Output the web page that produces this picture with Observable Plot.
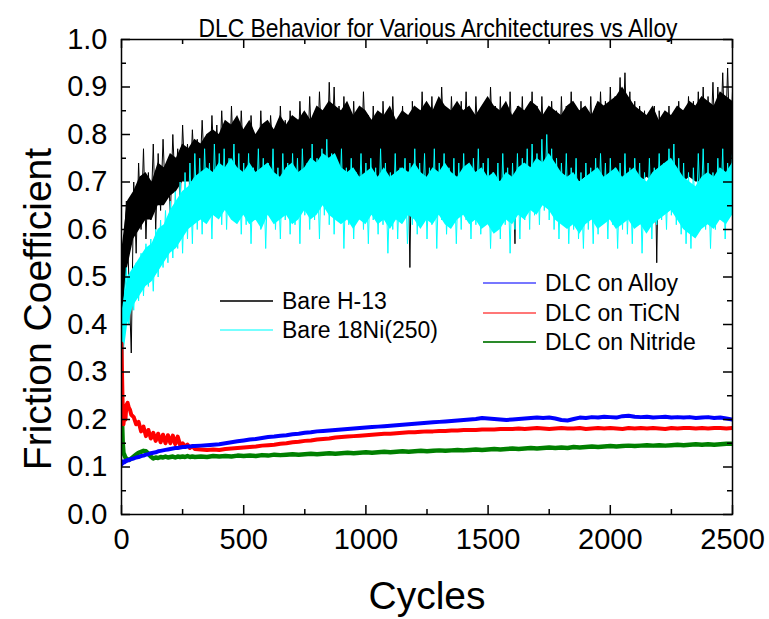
<!DOCTYPE html>
<html><head><meta charset="utf-8">
<script src="https://cdn.jsdelivr.net/npm/d3@7"></script>
<script src="https://cdn.jsdelivr.net/npm/@observablehq/plot@0.6"></script>
<style>
body{margin:0;background:#fff;}
#wrap{position:relative;width:769px;height:619px;font-family:"Liberation Sans",Arial,sans-serif;}
.leg{position:absolute;height:30px;display:flex;align-items:center;font-size:23px;color:#000;white-space:nowrap;}
.leg .sw{display:inline-block;width:53px;height:2px;margin-right:9px;}
</style></head><body><div id="wrap"></div><script>
const titleText = "DLC Behavior for Various Architectures vs Alloy";
const xLabel = "Cycles";
const yLabel = "Friction Coefficient";
const seriesNames = ["Bare H-13", "Bare 18Ni(250)", "DLC on Alloy", "DLC on TiCN", "DLC on Nitride"];
const seriesColors = ["#000000", "#00ffff", "#0000ff", "#ff0000", "#008000"];
const legendColors = ["#3a3a3a", "#77ffff", "#7777ff", "#ff7777", "#2a8a2a"];
const xMajor = [0, 500, 1000, 1500, 2000, 2500];
const xMinor = [250, 750, 1250, 1750, 2250];
const yMajor = [0, 0.1, 0.2, 0.3, 0.4, 0.5, 0.6, 0.7, 0.8, 0.9, 1.0];
const yMinor = [0.05, 0.15, 0.25, 0.35, 0.45, 0.55, 0.65, 0.75, 0.85, 0.95];

// Bare series sampled every 10 cycles (0..2500): spikes of the noisy traces
const bareStep = 10;
const bareH13 = [
0.11,0.56,0.66,0.50,0.34,0.70,0.55,0.74,0.60,0.77,
0.58,0.72,0.62,0.78,0.60,0.76,0.64,0.79,0.66,0.74,
0.63,0.80,0.68,0.77,0.65,0.82,0.70,0.78,0.68,0.81,
0.71,0.79,0.70,0.83,0.72,0.80,0.69,0.84,0.73,0.82,
0.71,0.85,0.74,0.80,0.70,0.86,0.73,0.83,0.72,0.85,
0.74,0.81,0.71,0.84,0.75,0.80,0.70,0.85,0.73,0.82,
0.72,0.84,0.76,0.81,0.71,0.86,0.74,0.83,0.73,0.85,
0.75,0.82,0.72,0.87,0.76,0.84,0.73,0.88,0.75,0.83,
0.74,0.89,0.77,0.85,0.73,0.91,0.76,0.90,0.75,0.86,
0.74,0.88,0.77,0.84,0.72,0.87,0.75,0.85,0.73,0.89,
0.76,0.84,0.72,0.86,0.74,0.83,0.71,0.87,0.76,0.85,
0.73,0.88,0.75,0.82,0.72,0.86,0.74,0.84,0.52,0.87,
0.75,0.85,0.73,0.89,0.76,0.84,0.72,0.88,0.75,0.86,
0.74,0.90,0.77,0.85,0.73,0.88,0.76,0.84,0.72,0.87,
0.75,0.89,0.74,0.85,0.73,0.88,0.77,0.83,0.71,0.87,
0.75,0.90,0.76,0.86,0.73,0.88,0.74,0.84,0.72,0.89,
0.75,0.57,0.86,0.74,0.88,0.73,0.85,0.76,0.89,0.74,
0.86,0.72,0.88,0.75,0.84,0.73,0.87,0.76,0.85,0.72,
0.88,0.74,0.86,0.73,0.89,0.75,0.84,0.72,0.87,0.74,
0.85,0.73,0.88,0.76,0.86,0.74,0.89,0.75,0.87,0.73,
0.90,0.76,0.88,0.77,0.92,0.78,0.93,0.76,0.89,0.75,
0.87,0.73,0.86,0.74,0.85,0.72,0.84,0.73,0.86,0.53,
0.85,0.72,0.83,0.74,0.86,0.73,0.84,0.75,0.87,0.74,
0.85,0.76,0.88,0.75,0.87,0.74,0.89,0.76,0.90,0.75,
0.88,0.77,0.91,0.76,0.90,0.78,0.93,0.77,0.94,0.76,
0.89];
const bare18Ni = [
0.20,0.45,0.52,0.40,0.50,0.43,0.53,0.45,0.55,0.46,
0.57,0.48,0.58,0.47,0.60,0.50,0.62,0.52,0.64,0.53,
0.66,0.54,0.68,0.56,0.70,0.55,0.72,0.58,0.74,0.57,
0.76,0.60,0.75,0.59,0.77,0.62,0.74,0.58,0.78,0.63,
0.76,0.61,0.77,0.60,0.75,0.64,0.78,0.62,0.76,0.59,
0.74,0.61,0.76,0.57,0.73,0.62,0.77,0.60,0.75,0.56,
0.74,0.63,0.77,0.60,0.73,0.58,0.76,0.62,0.74,0.59,
0.76,0.61,0.75,0.57,0.77,0.63,0.74,0.60,0.78,0.62,
0.75,0.58,0.77,0.63,0.79,0.61,0.76,0.59,0.74,0.62,
0.77,0.56,0.73,0.61,0.75,0.58,0.72,0.62,0.76,0.60,
0.74,0.57,0.75,0.62,0.73,0.59,0.77,0.61,0.74,0.55,
0.72,0.60,0.76,0.58,0.73,0.63,0.75,0.57,0.74,0.61,
0.77,0.59,0.74,0.62,0.76,0.58,0.73,0.61,0.77,0.56,
0.74,0.62,0.76,0.59,0.73,0.61,0.75,0.57,0.74,0.60,
0.76,0.62,0.73,0.58,0.75,0.61,0.77,0.59,0.74,0.62,
0.75,0.56,0.72,0.60,0.74,0.58,0.76,0.61,0.73,0.55,
0.74,0.60,0.76,0.58,0.75,0.62,0.77,0.60,0.78,0.63,
0.76,0.61,0.79,0.64,0.80,0.62,0.77,0.60,0.75,0.58,
0.74,0.61,0.76,0.57,0.73,0.60,0.75,0.58,0.72,0.56,
0.74,0.60,0.73,0.57,0.75,0.59,0.76,0.62,0.74,0.58,
0.75,0.61,0.73,0.56,0.74,0.60,0.76,0.59,0.73,0.57,
0.75,0.62,0.74,0.55,0.72,0.60,0.75,0.58,0.73,0.61,
0.76,0.62,0.74,0.60,0.77,0.63,0.78,0.61,0.75,0.59,
0.74,0.57,0.72,0.56,0.73,0.59,0.76,0.62,0.77,0.60,
0.74,0.56,0.72,0.60,0.75,0.62,0.77,0.58,0.74,0.63,
0.76];

// Dense core of each noisy trace, every 25 cycles (0..2500)
const coreStep = 25;
const h13CoreLow = [
0.40,0.52,0.58,0.60,0.62,0.62,0.65,0.65,0.67,0.68,
0.70,0.70,0.70,0.70,0.70,0.70,0.71,0.70,0.71,0.70,
0.70,0.71,0.70,0.71,0.70,0.70,0.71,0.70,0.70,0.71,
0.70,0.71,0.70,0.71,0.70,0.70,0.71,0.70,0.70,0.71,
0.70,0.71,0.70,0.71,0.70,0.70,0.71,0.70,0.70,0.71,
0.70,0.71,0.70,0.71,0.70,0.70,0.71,0.70,0.70,0.71,
0.70,0.71,0.70,0.71,0.70,0.70,0.71,0.70,0.70,0.71,
0.70,0.71,0.70,0.71,0.70,0.70,0.71,0.70,0.70,0.71,
0.70,0.71,0.70,0.71,0.70,0.70,0.71,0.70,0.70,0.71,
0.70,0.71,0.70,0.71,0.70,0.70,0.71,0.70,0.70,0.71,
0.71];
const h13CoreHigh = [
0.55,0.66,0.68,0.71,0.72,0.70,0.74,0.73,0.76,0.75,
0.78,0.77,0.79,0.78,0.80,0.81,0.80,0.83,0.82,0.84,
0.81,0.83,0.80,0.82,0.83,0.81,0.84,0.82,0.84,0.83,
0.85,0.83,0.86,0.85,0.87,0.86,0.85,0.87,0.84,0.86,
0.85,0.83,0.85,0.84,0.86,0.83,0.85,0.84,0.86,0.85,
0.87,0.85,0.88,0.86,0.85,0.87,0.85,0.86,0.84,0.86,
0.88,0.86,0.85,0.87,0.84,0.86,0.85,0.87,0.86,0.84,
0.86,0.85,0.84,0.86,0.87,0.85,0.86,0.84,0.87,0.86,
0.87,0.88,0.90,0.88,0.86,0.85,0.84,0.86,0.83,0.85,
0.84,0.86,0.85,0.87,0.86,0.88,0.87,0.86,0.89,0.88,
0.87];
const niCoreLow = [
0.30,0.40,0.44,0.46,0.48,0.49,0.51,0.53,0.55,0.56,
0.58,0.60,0.61,0.62,0.61,0.63,0.62,0.64,0.62,0.61,
0.63,0.61,0.62,0.60,0.63,0.61,0.62,0.63,0.61,0.62,
0.64,0.62,0.63,0.65,0.63,0.62,0.61,0.62,0.60,0.62,
0.61,0.63,0.61,0.62,0.60,0.62,0.61,0.63,0.62,0.60,
0.62,0.61,0.63,0.61,0.60,0.62,0.63,0.61,0.62,0.60,
0.61,0.59,0.60,0.62,0.61,0.63,0.62,0.64,0.63,0.65,
0.64,0.62,0.61,0.60,0.61,0.59,0.61,0.62,0.60,0.61,
0.62,0.60,0.61,0.62,0.60,0.61,0.59,0.61,0.62,0.63,
0.64,0.62,0.60,0.59,0.58,0.60,0.61,0.60,0.62,0.61,
0.63];
const niCoreHigh = [
0.42,0.50,0.52,0.54,0.56,0.57,0.60,0.61,0.64,0.66,
0.68,0.69,0.71,0.72,0.73,0.72,0.74,0.73,0.75,0.73,
0.72,0.74,0.72,0.73,0.74,0.72,0.71,0.73,0.74,0.72,
0.73,0.75,0.74,0.76,0.75,0.76,0.73,0.72,0.73,0.71,
0.72,0.73,0.71,0.73,0.71,0.72,0.73,0.72,0.74,0.72,
0.71,0.73,0.72,0.74,0.72,0.71,0.73,0.74,0.72,0.73,
0.71,0.72,0.70,0.72,0.71,0.73,0.74,0.73,0.75,0.74,
0.76,0.74,0.72,0.71,0.72,0.70,0.71,0.72,0.73,0.71,
0.72,0.73,0.71,0.72,0.73,0.71,0.70,0.72,0.73,0.74,
0.75,0.73,0.71,0.70,0.69,0.71,0.72,0.71,0.73,0.72,
0.74];

// DLC series sample cycles
const dlcCyclesEarly = [0,2,5,8,12,16,20,25,30,35,40,50,60,70,80,90,100,110,120,130,140,150,160,170,180,190,200,210,220,230,240,250,260,270,280,290,300];
const dlcCyclesLate = d3.range(325, 2501, 25);
const dlcAlloy = [
0.105,0.110,0.108,0.112,0.110,0.113,0.112,0.115,0.114,0.116,0.117,
0.118,0.120,0.121,0.123,0.124,0.126,0.127,0.129,0.130,0.131,0.133,0.134,0.135,0.136,0.137,0.138,0.139,0.140,0.140,0.141,0.142,0.142,0.143,0.143,0.144,0.144,
0.145,0.146,0.147,0.148,0.150,0.152,0.154,0.156,0.158,0.159,0.161,0.163,0.164,0.166,0.167,0.169,0.170,0.172,0.173,0.175,0.176,0.177,0.178,0.179,0.180,0.181,0.182,0.183,0.184,0.185,0.186,0.187,0.188,0.189,0.190,0.191,0.192,0.193,0.194,0.195,0.196,0.197,0.198,0.199,0.200,
0.201,0.203,0.202,0.201,0.200,0.199,0.200,0.201,0.202,0.203,0.204,0.203,0.204,0.202,0.199,0.198,0.201,0.204,0.203,0.205,0.204,0.206,0.205,0.204,0.207,0.208,0.206,0.205,0.206,0.204,0.205,0.206,0.204,0.205,0.204,0.205,0.203,0.204,0.205,0.203,0.204,0.202,0.200];
const dlcTiCN = [
0.36,0.30,0.22,0.19,0.21,0.20,0.23,0.235,0.225,0.22,0.21,
0.205,0.19,0.195,0.175,0.185,0.165,0.178,0.160,0.172,0.155,0.170,0.152,0.168,0.150,0.167,0.150,0.166,0.148,0.164,0.146,0.150,0.143,0.147,0.140,0.144,0.138,
0.137,0.136,0.137,0.136,0.138,0.139,0.140,0.141,0.142,0.143,0.145,0.146,0.147,0.149,0.150,0.152,0.153,0.155,0.156,0.158,0.159,0.160,0.162,0.163,0.164,0.165,0.166,0.167,0.168,0.169,0.170,0.170,0.171,0.172,0.173,0.173,0.174,0.175,0.175,0.176,0.176,0.177,0.177,0.178,0.178,0.178,0.179,0.179,0.179,0.180,0.180,0.180,
0.181,0.180,0.181,0.182,0.181,0.180,0.181,0.182,0.181,0.181,0.182,0.180,0.181,0.182,0.181,0.182,0.181,0.180,0.182,0.181,0.182,0.181,0.182,0.181,0.180,0.182,0.181,0.182,0.182,0.181,0.182,0.181,0.182,0.182,0.181,0.182];
const dlcNitride = [
0.30,0.20,0.15,0.13,0.125,0.12,0.118,0.116,0.115,0.116,0.118,
0.122,0.126,0.130,0.132,0.134,0.133,0.128,0.122,0.118,0.120,0.119,0.121,0.120,0.122,0.120,0.121,0.122,0.120,0.122,0.121,0.122,0.121,0.123,0.121,0.122,0.121,
0.122,0.121,0.123,0.122,0.123,0.122,0.124,0.123,0.124,0.123,0.125,0.124,0.126,0.125,0.126,0.127,0.126,0.127,0.128,0.127,0.128,0.129,0.128,0.129,0.130,0.129,0.130,0.131,0.130,0.131,0.132,0.131,0.132,0.133,0.132,0.133,0.134,0.133,0.134,0.135,0.134,0.135,0.136,0.135,0.136,0.137,0.136,0.137,0.138,0.137,0.138,0.139,0.138,0.139,0.140,0.139,0.140,0.141,0.140,0.141,0.140,0.142,0.141,0.142,0.143,0.142,0.143,0.144,0.143,0.144,0.145,0.144,0.145,0.146,0.145,0.146,0.145,0.146,0.147,0.146,0.147,0.148,0.147,0.148,0.147,0.148,0.149,0.149];

const bareCycles = bareH13.map((_, i) => i * bareStep);
const coreCycles = h13CoreLow.map((_, i) => i * coreStep);
const dlcCycles = dlcCyclesEarly.concat(dlcCyclesLate);
function table(cycles, vals) {
  const n = Math.min(cycles.length, vals.length);
  return d3.range(n).map(i => ({c: cycles[i], v: vals[i]}));
}
function band(cycles, lo, hi) {
  const n = Math.min(cycles.length, lo.length, hi.length);
  return d3.range(n).map(i => ({c: cycles[i], lo: lo[i], hi: hi[i]}));
}
const tH13 = table(bareCycles, bareH13);
const tNi = table(bareCycles, bare18Ni);
const bH13 = band(coreCycles, h13CoreLow, h13CoreHigh);
const bNi = band(coreCycles, niCoreLow, niCoreHigh);
const tAlloy = table(dlcCycles, dlcAlloy);
const tTiCN = table(dlcCycles, dlcTiCN);
const tNit = table(dlcCycles, dlcNitride);

const H = 475, W = 611;
const font = "'Liberation Sans', Arial, sans-serif";
const chart = Plot.plot({
  width: 769, height: 619,
  marginLeft: 121, marginRight: 37, marginTop: 39, marginBottom: 105,
  x: {domain: [0, 2500]},
  y: {domain: [0, 1]},
  style: {fontFamily: font, color: "#000", background: "#fff", overflow: "visible"},
  marks: [
    Plot.areaY(bH13, {x: "c", y1: "lo", y2: "hi", fill: seriesColors[0], curve: "linear", clip: true}),
    Plot.line(tH13, {x: "c", y: "v", stroke: seriesColors[0], strokeWidth: 1, clip: true}),
    Plot.areaY(bNi, {x: "c", y1: "lo", y2: "hi", fill: seriesColors[1], curve: "linear", clip: true}),
    Plot.line(tNi, {x: "c", y: "v", stroke: seriesColors[1], strokeWidth: 1, clip: true}),
    Plot.line(tNit, {x: "c", y: "v", stroke: seriesColors[4], strokeWidth: 4.5, clip: true}),
    Plot.line(tTiCN, {x: "c", y: "v", stroke: seriesColors[3], strokeWidth: 4, clip: true}),
    Plot.line(tAlloy, {x: "c", y: "v", stroke: seriesColors[2], strokeWidth: 4, clip: true}),
    Plot.frame({stroke: "#000", strokeWidth: 1.5}),
    Plot.tickX(xMajor, {x: d => d, insetTop: H - 9, strokeWidth: 1.5}),
    Plot.tickX(xMajor, {x: d => d, insetBottom: H - 9, strokeWidth: 1.5}),
    Plot.tickX(xMinor, {x: d => d, insetTop: H - 5, strokeWidth: 1.5}),
    Plot.tickX(xMinor, {x: d => d, insetBottom: H - 5, strokeWidth: 1.5}),
    Plot.tickY(yMajor, {y: d => d, insetRight: W - 9, strokeWidth: 1.5}),
    Plot.tickY(yMajor, {y: d => d, insetLeft: W - 9, strokeWidth: 1.5}),
    Plot.tickY(yMinor, {y: d => d, insetRight: W - 5, strokeWidth: 1.5}),
    Plot.tickY(yMinor, {y: d => d, insetLeft: W - 5, strokeWidth: 1.5}),
    Plot.axisX({ticks: xMajor, tickSize: 0, tickPadding: 14, fontSize: 29, tickFormat: d => String(d), label: null}),
    Plot.axisY({ticks: yMajor, tickSize: 0, tickPadding: 14, fontSize: 29, tickFormat: d => d.toFixed(1), label: null}),
    Plot.text([xLabel], {frameAnchor: "bottom", dy: 94, fontSize: 39, textAnchor: "middle"}),
    Plot.text([yLabel], {frameAnchor: "left", dx: -83, dy: 32, rotate: -90, fontSize: 39, textAnchor: "middle"}),
    Plot.text([titleText], {frameAnchor: "top", dx: 11, dy: -21, fontSize: 26, textAnchor: "middle"})
  ]
});
const wrap = document.getElementById("wrap");
wrap.appendChild(chart);
chart.querySelectorAll("text").forEach(t => {
  if (t.textContent === titleText) { t.setAttribute("textLength", 479); t.setAttribute("lengthAdjust", "spacingAndGlyphs"); }
});
// legend overlay
const legendPos = [
  {left: 220, y: 301}, {left: 220, y: 330},
  {left: 483, y: 283}, {left: 483, y: 313}, {left: 483, y: 342}
];
seriesNames.forEach((name, i) => {
  const d = document.createElement("div");
  d.className = "leg";
  d.style.left = legendPos[i].left + "px";
  d.style.top = (legendPos[i].y - 15) + "px";
  const sw = document.createElement("span");
  sw.className = "sw";
  sw.style.background = legendColors[i];
  d.appendChild(sw);
  d.appendChild(document.createTextNode(name));
  wrap.appendChild(d);
});
</script></body></html>
